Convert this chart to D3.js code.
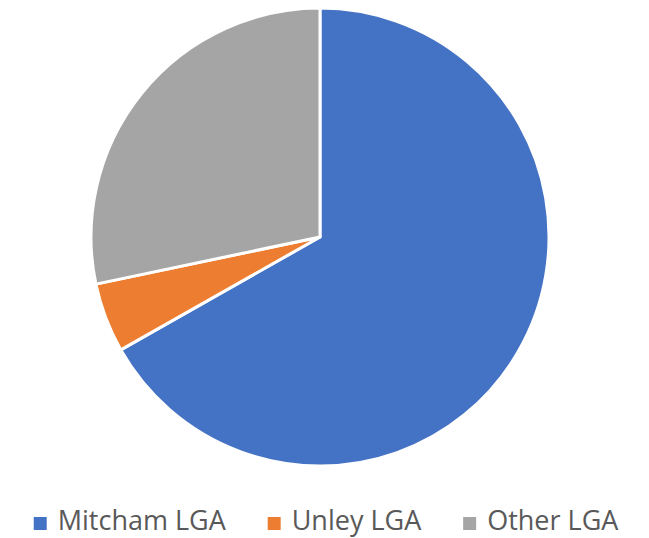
<!DOCTYPE html>
<html>
<head>
<meta charset="utf-8">
<script src="https://cdn.jsdelivr.net/npm/d3@7"></script>
<style>
  body { margin: 0; background: #fff; }
  svg { display: block; }
</style>
</head>
<body>
<script>
const categories = ["Mitcham LGA", "Unley LGA", "Other LGA"];
const shares = [66.8, 4.9, 28.3];
const colors = ["#4472C4", "#ED7D31", "#A5A5A5"];

const width = 649, height = 538;
const cx = 320, cy = 237, radius = 229;

const svg = d3.select("body").append("svg")
    .attr("width", width)
    .attr("height", height);

const data = categories.map((c, i) => ({name: c, value: shares[i], color: colors[i]}));

const pie = d3.pie().sort(null).value(d => d.value);
const arc = d3.arc().innerRadius(0).outerRadius(radius);

svg.append("g")
    .attr("transform", `translate(${cx},${cy})`)
    .selectAll("path")
    .data(pie(data))
    .join("path")
    .attr("d", arc)
    .attr("fill", d => d.data.color)
    .attr("stroke", "#fff")
    .attr("stroke-width", 3)
    .attr("stroke-linejoin", "round");

// legend
const legend = svg.append("g");
const items = legend.selectAll("g")
    .data(data)
    .join("g");

items.append("rect")
    .attr("y", -13)
    .attr("width", 13)
    .attr("height", 13)
    .attr("fill", d => d.color);

items.append("text")
    .attr("x", 24)
    .attr("y", 0)
    .attr("font-family", "'Open Sans', sans-serif")
    .attr("font-size", 27)
    .attr("fill", "#595959")
    .text(d => d.name);

let x = 0;
items.each(function() {
    d3.select(this).attr("transform", `translate(${x},0)`);
    x += this.getBBox().width + 41;
});
const total = x - 41;
legend.attr("transform", `translate(${(width - total) / 2 + 2},${530})`);
</script>
</body>
</html>
